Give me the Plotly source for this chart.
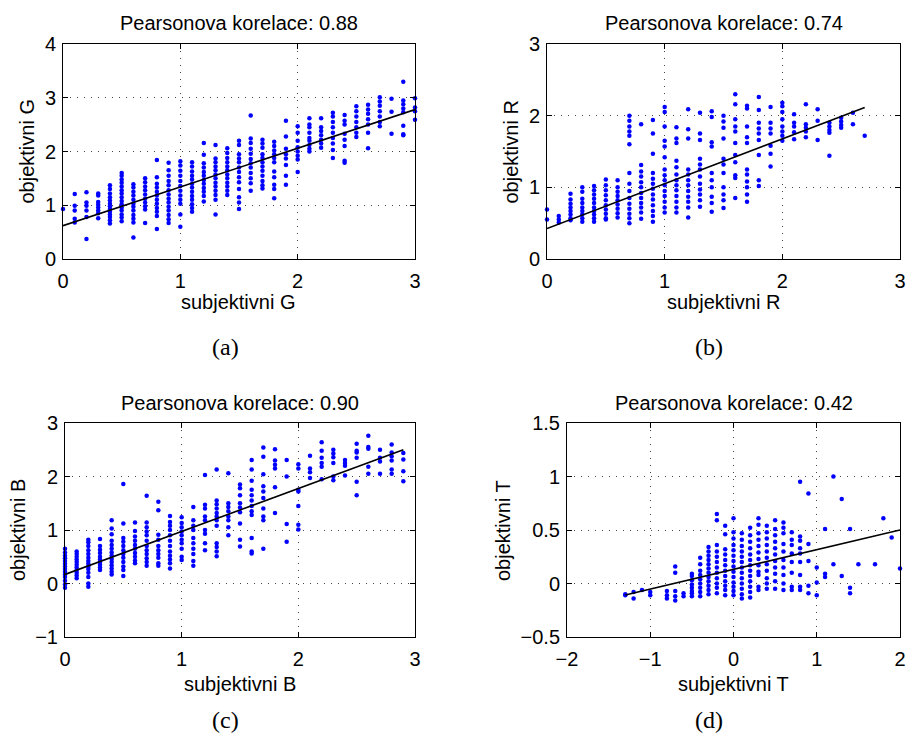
import plotly.graph_objects as go

W, H = 907, 740

# ---------------- data ----------------
# Panel (a): subjektivni G vs objektivni G
G_levels = [0.0, 0.1, 0.2, 0.3, 0.4, 0.5, 0.6, 0.7, 0.8, 0.9, 1.0, 1.1, 1.2, 1.3, 1.4, 1.5,
            1.6, 1.7, 1.8, 1.9, 2.0, 2.1, 2.2, 2.3, 2.4, 2.5, 2.6, 2.7, 2.8, 2.9, 3.0]
G_obj = [
    [0.93],
    [1.21, 0.99, 0.90, 0.75, 0.68],
    [1.24, 1.05, 0.99, 0.90, 0.78, 0.37],
    [1.22, 1.18, 1.06, 1.01, 0.96, 0.90, 0.85, 0.76],
    [1.37, 1.30, 1.22, 1.15, 1.09, 1.03, 0.98, 0.93, 0.88, 0.83, 0.78, 0.72, 0.66],
    [1.60, 1.55, 1.48, 1.42, 1.35, 1.28, 1.22, 1.15, 1.08, 1.02, 0.96, 0.90, 0.83, 0.77, 0.70],
    [1.39, 1.33, 1.25, 1.18, 1.10, 1.03, 0.97, 0.90, 0.82, 0.75, 0.68, 0.40],
    [1.50, 1.43, 1.35, 1.28, 1.20, 1.12, 1.05, 0.98, 0.92, 0.67],
    [1.84, 1.52, 1.40, 1.33, 1.25, 1.18, 1.10, 1.03, 0.95, 0.88, 0.80, 0.56],
    [1.79, 1.65, 1.55, 1.45, 1.37, 1.28, 1.20, 1.12, 1.05, 0.97, 0.90, 0.82, 0.74, 0.67],
    [1.82, 1.74, 1.64, 1.55, 1.45, 1.36, 1.27, 1.18, 1.10, 1.03, 0.83, 0.60],
    [1.80, 1.72, 1.63, 1.55, 1.48, 1.40, 1.33, 1.25, 1.17, 1.10, 1.02, 0.95, 0.88],
    [2.16, 1.94, 1.78, 1.70, 1.62, 1.55, 1.47, 1.40, 1.32, 1.25, 1.17, 1.07],
    [2.12, 1.87, 1.80, 1.72, 1.65, 1.57, 1.50, 1.42, 1.35, 1.27, 1.19, 1.10, 0.83],
    [2.06, 1.97, 1.88, 1.80, 1.72, 1.65, 1.57, 1.50, 1.42, 1.35, 1.27, 1.19],
    [2.20, 2.12, 1.95, 1.87, 1.80, 1.70, 1.62, 1.52, 1.43, 1.30, 1.15, 1.05, 0.93],
    [2.67, 2.24, 2.16, 2.05, 1.96, 1.86, 1.78, 1.70, 1.60, 1.50, 1.41, 1.27],
    [2.22, 2.15, 2.07, 1.95, 1.88, 1.80, 1.72, 1.64, 1.55, 1.45, 1.37, 1.31],
    [2.18, 2.10, 2.02, 1.95, 1.88, 1.80, 1.63, 1.52, 1.38, 1.30, 1.13],
    [2.57, 2.28, 2.05, 1.95, 1.87, 1.75, 1.55, 1.38],
    [2.47, 2.35, 2.20, 2.08, 2.00, 1.92, 1.85, 1.62],
    [2.62, 2.50, 2.45, 2.35, 2.25, 2.20, 2.12, 2.05, 2.00],
    [2.62, 2.45, 2.38, 2.30, 2.22, 2.15, 2.07],
    [2.72, 2.65, 2.55, 2.45, 2.35, 2.25, 2.15, 2.03, 1.88],
    [2.68, 2.57, 2.50, 2.33, 2.22, 2.10, 1.83, 1.79],
    [2.84, 2.75, 2.65, 2.55, 2.45, 2.35, 2.27],
    [2.87, 2.78, 2.70, 2.60, 2.50, 2.35, 2.06],
    [3.01, 2.93, 2.85, 2.75, 2.65, 2.55, 2.47],
    [2.98, 2.74, 2.33],
    [3.30, 2.95, 2.88, 2.80, 2.73, 2.48, 2.32, 2.30],
    [2.99, 2.82, 2.75, 2.59],
]
G_fit = (0.62, 0.72)  # intercept, slope
G_r = "0.88"

# Panel (b): subjektivni R vs objektivni R
R_levels = [0.0, 0.1, 0.2, 0.3, 0.4, 0.5, 0.6, 0.7, 0.8, 0.9, 1.0, 1.1, 1.2, 1.3, 1.4, 1.5,
            1.6, 1.7, 1.8, 1.9, 2.0, 2.1, 2.2, 2.3, 2.4, 2.5, 2.6, 2.7]
R_obj = [
    [0.69, 0.55],
    [0.60, 0.55, 0.51],
    [0.91, 0.83, 0.77, 0.72, 0.67, 0.62, 0.57, 0.54],
    [1.00, 0.94, 0.84, 0.78, 0.72, 0.67, 0.62, 0.57, 0.52],
    [1.02, 0.96, 0.90, 0.84, 0.78, 0.72, 0.67, 0.62, 0.57, 0.52],
    [1.11, 1.03, 0.96, 0.89, 0.82, 0.75, 0.69, 0.63, 0.57, 0.55],
    [1.10, 1.00, 0.94, 0.88, 0.82, 0.76, 0.70, 0.64, 0.58],
    [2.00, 1.93, 1.85, 1.78, 1.72, 1.60, 1.20, 1.05, 0.95, 0.85, 0.77, 0.70, 0.63, 0.57, 0.50],
    [1.88, 1.31, 1.22, 1.15, 1.07, 1.00, 0.92, 0.85, 0.78, 0.72, 0.65, 0.56],
    [1.94, 1.75, 1.47, 1.20, 1.12, 1.05, 0.98, 0.90, 0.83, 0.75, 0.67, 0.60, 0.52],
    [2.12, 2.05, 1.85, 1.65, 1.57, 1.42, 1.25, 1.17, 1.10, 1.03, 0.95, 0.88, 0.80, 0.72, 0.65],
    [1.84, 1.68, 1.62, 1.37, 1.28, 1.18, 1.10, 1.03, 0.96, 0.88, 0.80, 0.72, 0.65],
    [2.09, 1.81, 1.68, 1.25, 1.18, 1.10, 1.03, 0.95, 0.87, 0.80, 0.72, 0.58],
    [2.04, 1.75, 1.66, 1.40, 1.32, 1.25, 1.15, 1.05, 0.97, 0.90, 0.82, 0.73],
    [2.06, 1.98, 1.63, 1.57, 1.20, 1.10, 1.00, 0.87, 0.78, 0.66],
    [2.00, 1.92, 1.83, 1.68, 1.40, 1.32, 1.20, 1.00, 0.90, 0.82, 0.71],
    [2.30, 2.16, 1.95, 1.85, 1.78, 1.62, 1.45, 1.35, 1.17, 1.13, 0.85],
    [2.14, 2.10, 1.85, 1.70, 1.62, 1.25, 1.18, 1.08, 1.00, 0.90, 0.80],
    [2.26, 2.08, 1.90, 1.82, 1.75, 1.66, 1.45, 1.10, 1.02],
    [2.12, 1.90, 1.82, 1.75, 1.58, 1.47, 1.29],
    [2.18, 2.13, 2.05, 1.95, 1.85, 1.78, 1.72, 1.65],
    [2.02, 1.90, 1.85, 1.77, 1.67],
    [2.16, 1.88, 1.83, 1.78, 1.70],
    [2.09, 1.93, 1.66],
    [1.90, 1.85, 1.80, 1.76, 1.44],
    [1.97, 1.92, 1.87, 1.83],
    [2.04, 1.88],
    [1.72],
]
R_fit = (0.425, 0.625)
R_r = "0.74"

# Panel (c): subjektivni B vs objektivni B
B_levels = [0.0, 0.1, 0.2, 0.3, 0.4, 0.5, 0.6, 0.7, 0.8, 0.9, 1.0, 1.1, 1.2, 1.3, 1.4, 1.5,
            1.6, 1.7, 1.8, 1.9, 2.0, 2.1, 2.2, 2.3, 2.4, 2.5, 2.6, 2.7, 2.8, 2.9]
B_obj = [
    [0.65, 0.58, 0.52, 0.47, 0.42, 0.37, 0.32, 0.27, 0.22, 0.17, 0.12, 0.05, -0.02, -0.08],
    [0.60, 0.55, 0.50, 0.45, 0.40, 0.35, 0.30, 0.25, 0.20, 0.15, 0.10],
    [0.82, 0.77, 0.70, 0.62, 0.55, 0.48, 0.42, 0.37, 0.32, 0.27, 0.20, 0.12, 0.00, -0.06],
    [0.83, 0.70, 0.63, 0.57, 0.50, 0.45, 0.40, 0.35, 0.30, 0.25],
    [1.18, 1.03, 0.92, 0.80, 0.72, 0.65, 0.58, 0.52, 0.46, 0.40, 0.34, 0.28, 0.22, 0.17],
    [1.86, 1.12, 0.85, 0.78, 0.70, 0.62, 0.55, 0.48, 0.40, 0.32, 0.25, 0.14],
    [1.14, 0.98, 0.88, 0.80, 0.72, 0.65, 0.57, 0.50, 0.43, 0.38],
    [1.64, 1.14, 1.05, 0.97, 0.90, 0.80, 0.70, 0.62, 0.55, 0.47, 0.40, 0.33],
    [1.53, 1.37, 0.91, 0.82, 0.70, 0.62, 0.55, 0.48, 0.38, 0.33],
    [1.26, 1.15, 1.08, 1.00, 0.90, 0.80, 0.70, 0.60, 0.52, 0.45, 0.38, 0.28],
    [1.24, 1.13, 1.05, 0.97, 0.90, 0.82, 0.75, 0.65, 0.50, 0.44],
    [1.43, 1.18, 1.08, 1.00, 0.85, 0.75, 0.65, 0.55, 0.42, 0.33],
    [2.03, 1.47, 1.40, 1.25, 1.18, 1.00, 0.93, 0.75, 0.62],
    [2.13, 1.55, 1.48, 1.40, 1.32, 1.25, 1.18, 1.08, 0.75, 0.68, 0.60, 0.51],
    [2.06, 1.50, 1.43, 1.35, 1.25, 1.18, 1.05, 0.90],
    [1.85, 1.78, 1.65, 1.50, 1.42, 1.33, 1.12, 0.82, 0.69],
    [2.31, 2.13, 1.92, 1.75, 1.65, 1.55, 1.45, 1.35, 1.28, 0.85, 0.60, 0.56],
    [2.54, 2.37, 2.04, 1.82, 1.72, 1.60, 1.40, 1.25, 1.18, 0.65],
    [2.51, 2.30, 2.22, 2.15, 1.80, 1.32],
    [2.31, 2.00, 1.11, 0.78],
    [2.23, 2.15, 1.75, 1.72, 1.45, 1.10, 1.01],
    [2.39, 2.15, 2.08, 1.97],
    [2.64, 2.48, 2.35, 2.25, 2.18, 1.95],
    [2.50, 2.43, 2.36, 2.25, 2.00, 1.93],
    [2.31, 2.25, 2.20, 2.02],
    [2.61, 2.48, 2.45, 2.35, 1.90, 1.65],
    [2.76, 2.55, 2.52, 2.18, 2.05],
    [2.50, 2.35, 2.28, 2.05],
    [2.60, 2.45, 2.38, 2.30, 2.13, 2.05],
    [2.44, 2.32, 2.10, 1.91],
]
B_fit = (0.17, 0.803)
B_r = "0.90"

# Panel (d): subjektivni T vs objektivni T
T_levels = [-1.3, -1.2, -1.1, -1.0, -0.8, -0.7, -0.6, -0.5, -0.4, -0.3, -0.2, -0.1, 0.0, 0.1,
            0.2, 0.3, 0.4, 0.5, 0.6, 0.7, 0.8, 0.9, 1.0, 1.1, 1.2, 1.3, 1.4, 1.5, 1.7, 1.8, 1.9, 2.0]
T_obj = [
    [-0.10, -0.11],
    [-0.08, -0.14],
    [-0.06],
    [-0.08, -0.11],
    [-0.07, -0.11, -0.14],
    [0.16, 0.10, -0.07, -0.12, -0.16],
    [-0.09, -0.12],
    [0.09, 0.07, 0.03, -0.01, -0.04, -0.07, -0.09, -0.12],
    [0.24, 0.18, 0.12, 0.08, 0.04, 0.00, -0.04, -0.08, -0.12],
    [0.34, 0.30, 0.26, 0.22, 0.18, 0.14, 0.10, 0.06, 0.02, -0.02, -0.06, -0.10],
    [0.65, 0.59, 0.36, 0.30, 0.25, 0.20, 0.15, 0.10, 0.05, 0.00, -0.04, -0.09],
    [0.54, 0.46, 0.32, 0.27, 0.22, 0.17, 0.12, 0.07, 0.02, -0.02, -0.06, -0.11],
    [0.61, 0.48, 0.42, 0.36, 0.31, 0.26, 0.21, 0.16, 0.11, 0.06, 0.01, -0.03, -0.07, -0.11],
    [0.47, 0.41, 0.35, 0.30, 0.25, 0.20, 0.15, 0.10, 0.05, 0.00, -0.05, -0.10, -0.14],
    [0.52, 0.45, 0.39, 0.33, 0.27, 0.22, 0.17, 0.12, 0.07, 0.02, -0.03, -0.08, -0.13],
    [0.61, 0.55, 0.47, 0.41, 0.35, 0.29, 0.23, 0.17, 0.11, 0.08, -0.03, -0.06],
    [0.54, 0.48, 0.42, 0.36, 0.30, 0.24, 0.18, 0.12, 0.05, 0.00, -0.05],
    [0.59, 0.51, 0.45, 0.39, 0.33, 0.27, 0.21, 0.15, 0.09, 0.02, -0.05],
    [0.57, 0.52, 0.47, 0.37, 0.30, 0.22, 0.15, 0.08, 0.00, -0.06],
    [0.48, 0.41, 0.36, 0.28, 0.20, 0.10, -0.03, -0.06],
    [0.95, 0.44, 0.40, 0.33, 0.28, 0.20, 0.08, -0.03, -0.06],
    [0.84, 0.37, 0.21, -0.02, -0.09],
    [0.15, 0.01, -0.11],
    [0.51, 0.09, 0.06],
    [1.00, 0.18],
    [0.79, 0.07],
    [0.51, -0.04, -0.09],
    [0.18],
    [0.18],
    [0.61],
    [0.43],
    [0.14],
]
T_fit = (0.132, 0.184)
T_r = "0.42"

# ---------------- figure ----------------
SANS = "Liberation Sans, Arial, sans-serif"
SERIF = "Liberation Serif, Times New Roman, serif"

panels = [
    dict(levels=G_levels, obj=G_obj, fit=G_fit, r=G_r, xlab="subjektivni G", ylab="objektivni G",
         cap="(a)", box=(63, 415, 44, 259), xr=[0, 3], yr=[0, 4], dx=1, dy=1,
         title_y=23, xlab_y=302, ylab_x=27, cap_xy=(225, 347)),
    dict(levels=R_levels, obj=R_obj, fit=R_fit, r=R_r, xlab="subjektivni R", ylab="objektivni R",
         cap="(b)", box=(547, 900, 44, 259), xr=[0, 3], yr=[0, 3], dx=1, dy=1,
         title_y=23, xlab_y=302, ylab_x=511, cap_xy=(709, 347)),
    dict(levels=B_levels, obj=B_obj, fit=B_fit, r=B_r, xlab="subjektivni B", ylab="objektivni B",
         cap="(c)", box=(65, 415, 423, 637), xr=[0, 3], yr=[-1, 3], dx=1, dy=1,
         title_y=403, xlab_y=684, ylab_x=18, cap_xy=(225, 720)),
    dict(levels=T_levels, obj=T_obj, fit=T_fit, r=T_r, xlab="subjektivni T", ylab="objektivni T",
         cap="(d)", box=(567, 900, 423, 637), xr=[-2, 2], yr=[-0.5, 1.5], dx=1, dy=0.5,
         title_y=403, xlab_y=684, ylab_x=503, cap_xy=(709, 720)),
]

def px(x):
    return x / W

def py(y):
    return 1 - y / H

fig = go.Figure()
annotations = []
for i, p in enumerate(panels, start=1):
    xs, ys = [], []
    for lvl, col in zip(p["levels"], p["obj"]):
        xs.extend([lvl] * len(col))
        ys.extend(col)
    xa = "x" if i == 1 else f"x{i}"
    ya = "y" if i == 1 else f"y{i}"
    fig.add_trace(go.Scatter(x=xs, y=ys, mode="markers", xaxis=xa, yaxis=ya,
                             marker=dict(color="#0000ff", size=4.5, line=dict(width=0)),
                             cliponaxis=False, showlegend=False, hoverinfo="x+y"))
    b0, b1 = p["fit"]
    lx = [min(xs), max(xs)]
    ly = [b0 + b1 * v for v in lx]
    fig.add_trace(go.Scatter(x=lx, y=ly, mode="lines", xaxis=xa, yaxis=ya,
                             line=dict(color="black", width=1.6), showlegend=False,
                             cliponaxis=False))
    x0, x1, y0, y1 = p["box"]
    axcommon = dict(showline=True, linecolor="black", linewidth=1, mirror="ticks",
                    ticks="inside", ticklen=5, tickcolor="black", tickwidth=1,
                    showgrid=True, gridcolor="#444444", griddash="1px,6px", gridwidth=1,
                    zeroline=False, automargin=False,
                    tickfont=dict(family=SANS, size=20, color="black"),
                    fixedrange=True)
    xkey = "xaxis" if i == 1 else f"xaxis{i}"
    ykey = "yaxis" if i == 1 else f"yaxis{i}"
    fig.update_layout(**{
        xkey: dict(domain=[px(x0), px(x1)], range=p["xr"], dtick=p["dx"], tick0=0,
                   anchor=ya, ticklabelstandoff=4, **axcommon),
        ykey: dict(domain=[py(y1), py(y0)], range=p["yr"], dtick=p["dy"], tick0=0,
                   anchor=xa, ticklabelstandoff=2, **axcommon),
    })
    cx = (x0 + x1) / 2
    annotations.append(dict(text=f"Pearsonova korelace: {p['r']}", x=px(cx), y=py(p["title_y"]),
                            xref="paper", yref="paper", xanchor="center", yanchor="middle",
                            showarrow=False, font=dict(family=SANS, size=20, color="black")))
    annotations.append(dict(text=p["xlab"], x=px(cx), y=py(p["xlab_y"]),
                            xref="paper", yref="paper", xanchor="center", yanchor="middle",
                            showarrow=False, font=dict(family=SANS, size=20, color="black")))
    annotations.append(dict(text=p["ylab"], x=px(p["ylab_x"]), y=py((y0 + y1) / 2),
                            xref="paper", yref="paper", xanchor="center", yanchor="middle",
                            textangle=-90, showarrow=False,
                            font=dict(family=SANS, size=20, color="black")))
    annotations.append(dict(text=p["cap"], x=px(p["cap_xy"][0]), y=py(p["cap_xy"][1]),
                            xref="paper", yref="paper", xanchor="center", yanchor="middle",
                            showarrow=False, font=dict(family=SERIF, size=24, color="black")))

fig.update_layout(width=W, height=H, margin=dict(l=0, r=0, t=0, b=0, autoexpand=False),
                  paper_bgcolor="white", plot_bgcolor="white",
                  annotations=annotations, showlegend=False)

fig.write_html("out.html", config={"displayModeBar": False},
               post_script="document.body.style.margin='0';document.body.style.overflow='hidden';")
